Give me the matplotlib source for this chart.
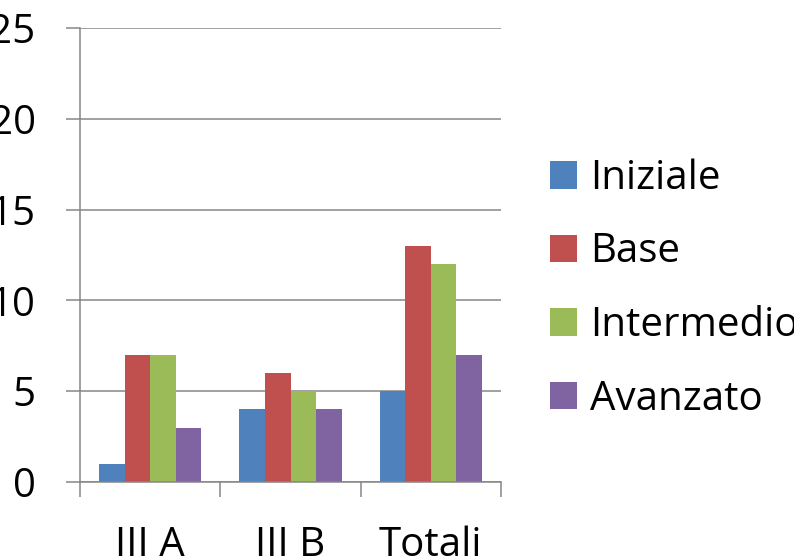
import matplotlib

matplotlib.use("Agg")
import matplotlib.pyplot as plt
import numpy as np
from matplotlib.patches import Patch

categories = ["III A", "III B", "Totali"]
series_names = ["Iniziale", "Base", "Intermedio", "Avanzato"]
iniziale = [1, 4, 5]
base = [7, 6, 13]
intermedio = [7, 5, 12]
avanzato = [3, 4, 7]
y_ticks = [0, 5, 10, 15, 20, 25]

colors = ["#4F81BD", "#C0504D", "#9BBB59", "#8064A2"]
grid_color = "#868686"

plt.rcParams["font.family"] = ["Open Sans", "DejaVu Sans"]
fontsize = 29

fig = plt.figure(figsize=(7.94, 5.60), dpi=100)
ax = fig.add_axes([80 / 794, 78 / 560, 421 / 794, 454 / 560])

x = np.arange(len(categories))
width = 0.182
values = [iniziale, base, intermedio, avanzato]
for i, (vals, color) in enumerate(zip(values, colors)):
    ax.bar(x + (i - 1.5) * width, vals, width, color=color, linewidth=0, zorder=3)

ax.set_xlim(-0.5, len(categories) - 0.5)
ax.set_ylim(0, 25)
ax.set_yticks(y_ticks)
ax.set_yticklabels([str(v) for v in y_ticks], fontsize=fontsize)
ax.set_xticks(x)
ax.set_xticklabels(categories, fontsize=fontsize)
ax.set_xticks(np.arange(len(categories) + 1) - 0.5, minor=True)

ax.tick_params(axis="y", length=10, width=1.1, color=grid_color, pad=22)
ax.tick_params(axis="x", which="major", length=0, pad=31)
ax.tick_params(axis="x", which="minor", length=11, width=1.1, color=grid_color)

ax.grid(axis="y", color=grid_color, linewidth=1.1, zorder=0)
for side in ["top", "right"]:
    ax.spines[side].set_visible(False)
for side in ["left", "bottom"]:
    ax.spines[side].set_color(grid_color)
    ax.spines[side].set_linewidth(1.1)
    ax.spines[side].set_zorder(4)

handles = [Patch(facecolor=c, edgecolor="none") for c in colors]
fig.legend(
    handles,
    series_names,
    loc="center left",
    bbox_to_anchor=(550 / 794, 1 - 289 / 560),
    frameon=False,
    fontsize=fontsize,
    handlelength=0.67,
    handleheight=0.67,
    handletextpad=0.33,
    labelspacing=0.82,
    borderpad=0,
    borderaxespad=0,
)

fig.savefig("out.png", dpi=100)
